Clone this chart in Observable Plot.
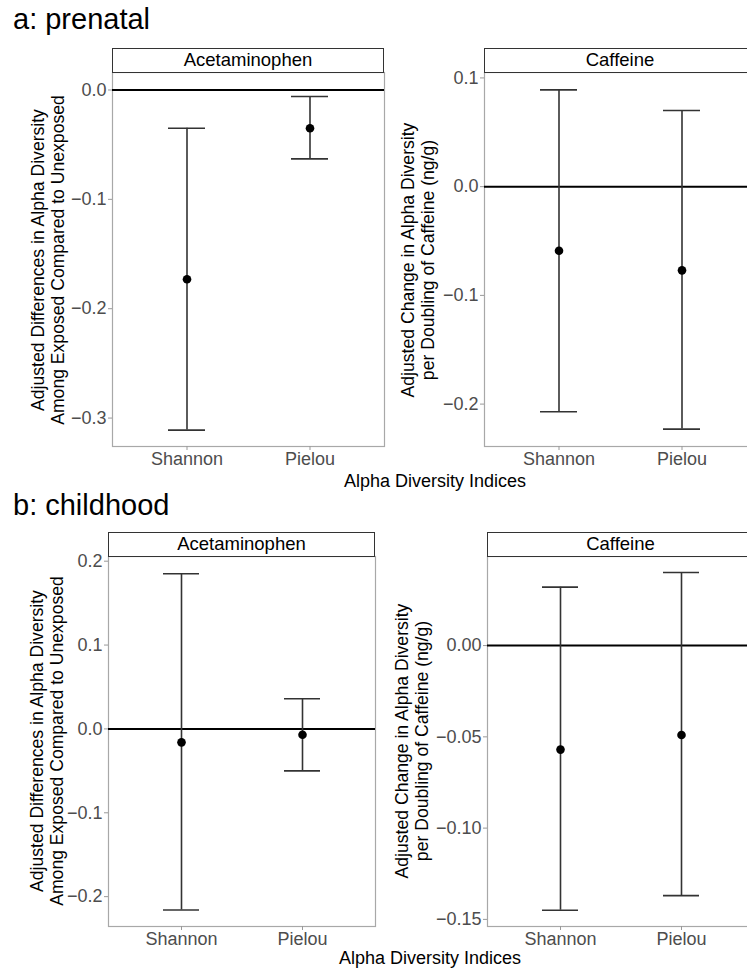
<!DOCTYPE html>
<html>
<head>
<meta charset="utf-8">
<script src="https://cdn.jsdelivr.net/npm/d3@7"></script>
<script src="https://cdn.jsdelivr.net/npm/@observablehq/plot@0.6"></script>
<style>
  body { margin: 0; background: white; }
  #root { position: relative; width: 747px; height: 970px; overflow: hidden; background: white;
          font-family: "Liberation Sans", Arial, sans-serif; color: black; }
  .abs { position: absolute; white-space: nowrap; }
  .title { font-size: 29px; line-height: 29px; }
  .strip { box-sizing: border-box; border: 1.3px solid #333; background: white;
           font-size: 18.5px; text-align: center; }
  .xtitle { font-size: 18px; line-height: 20px; transform: translate(-50%, -50%); }
  .ytitle { font-size: 17.6px; line-height: 20px; text-align: center; width: 460px;
            transform: translate(-50%, -50%) rotate(-90deg); }
</style>
</head>
<body>
<div id="root"></div>
<script>
// ---- data ----
const indices = ["Shannon", "Pielou"];

const prenatalAcetEst = [-0.173, -0.035];
const prenatalAcetLo  = [-0.311, -0.063];
const prenatalAcetHi  = [-0.035, -0.006];
const prenatalAcetTicks = [0, -0.1, -0.2, -0.3];
const prenatalAcetLimits = [-0.326, 0.016];

const prenatalCaffEst = [-0.059, -0.077];
const prenatalCaffLo  = [-0.207, -0.223];
const prenatalCaffHi  = [0.089, 0.070];
const prenatalCaffTicks = [0.1, 0, -0.1, -0.2];
const prenatalCaffLimits = [-0.239, 0.105];

const childAcetEst = [-0.016, -0.007];
const childAcetLo  = [-0.216, -0.050];
const childAcetHi  = [0.185, 0.036];
const childAcetTicks = [0.2, 0.1, 0, -0.1, -0.2];
const childAcetLimits = [-0.2356, 0.2056];

const childCaffEst = [-0.057, -0.049];
const childCaffLo  = [-0.145, -0.137];
const childCaffHi  = [0.032, 0.040];
const childCaffTicks = [0, -0.05, -0.10, -0.15];
const childCaffLimits = [-0.1539, 0.0488];

const panelTitles = ["a: prenatal", "b: childhood"];
const stripLabels = ["Acetaminophen", "Caffeine"];
const xTitle = "Alpha Diversity Indices";
const yTitleAcet = ["Adjusted Differences in Alpha Diversity", "Among Exposed Compared to Unexposed"];
const yTitleCaff = ["Adjusted Change in Alpha Diversity", "per Doubling of Caffeine (ng/g)"];

// ---- helpers ----
const root = document.getElementById("root");
function addDiv(cls, text, css) {
  const d = document.createElement("div");
  d.className = "abs " + cls;
  if (Array.isArray(text)) d.innerHTML = text.map(t => t.replace(/&/g,"&amp;")).join("<br>");
  else d.textContent = text;
  Object.assign(d.style, css);
  root.appendChild(d);
  return d;
}

function panel({est, lo, hi, ticks, limits, fmt, L, R, T, B, strip}) {
  const data = indices.map((k, i) => ({index: k, est: est[i], lo: lo[i], hi: hi[i]}));
  const mL = 70, mR = 2, mT = 2, mB = 40;
  const W = R - L, H = B - T;
  const chart = Plot.plot({
    width: W + mL + mR,
    height: H + mT + mB,
    marginLeft: mL, marginRight: mR, marginTop: mT, marginBottom: mB,
    style: {fontFamily: "Liberation Sans, Arial, sans-serif", fontSize: "18px",
            background: "transparent", maxWidth: "none", overflow: "visible"},
    x: {type: "band", domain: indices, paddingInner: 0.7, paddingOuter: 0.45, label: null},
    y: {domain: limits, label: null},
    marks: [
      Plot.frame({stroke: "#a8a8a8", strokeWidth: 1.2}),
      Plot.axisY({ticks, tickFormat: d3.format(fmt), tickSize: 4, tickPadding: 2,
                  stroke: "#999", fill: "#4d4d4d", fontSize: 18, label: null}),
      Plot.axisX({tickSize: 4, tickPadding: 2, stroke: "#999", fill: "#4d4d4d",
                  fontSize: 18, label: null}),
      Plot.ruleY([0], {stroke: "black", strokeWidth: 2}),
      Plot.ruleX(data, {x: "index", y1: "lo", y2: "hi", stroke: "#333", strokeWidth: 1.6}),
      Plot.tickY(data, {x: "index", y: "lo", stroke: "#333", strokeWidth: 1.6}),
      Plot.tickY(data, {x: "index", y: "hi", stroke: "#333", strokeWidth: 1.6}),
      Plot.dot(data, {x: "index", y: "est", r: 4.3, fill: "black", stroke: "none"})
    ]
  });
  chart.style.position = "absolute";
  chart.style.left = (L - mL) + "px";
  chart.style.top = (T - mT) + "px";
  root.appendChild(chart);
  addDiv("strip", strip, {left: L + "px", top: (T - 24.5) + "px", width: W + "px",
                          height: "25px", lineHeight: "22px"});
}

// ---- row a ----
addDiv("title", panelTitles[0], {left: "13px", top: "4.5px"});
panel({est: prenatalAcetEst, lo: prenatalAcetLo, hi: prenatalAcetHi, ticks: prenatalAcetTicks,
       limits: prenatalAcetLimits, fmt: ".1f", L: 112, R: 384, T: 72, B: 446, strip: stripLabels[0]});
panel({est: prenatalCaffEst, lo: prenatalCaffLo, hi: prenatalCaffHi, ticks: prenatalCaffTicks,
       limits: prenatalCaffLimits, fmt: ".1f", L: 484, R: 756, T: 72, B: 446, strip: stripLabels[1]});
addDiv("ytitle", yTitleAcet, {left: "48px", top: "260px"});
addDiv("ytitle", yTitleCaff, {left: "418px", top: "260px"});
addDiv("xtitle", xTitle, {left: "435px", top: "481px"});

// ---- row b ----
addDiv("title", panelTitles[1], {left: "13px", top: "490.5px"});
panel({est: childAcetEst, lo: childAcetLo, hi: childAcetHi, ticks: childAcetTicks,
       limits: childAcetLimits, fmt: ".1f", L: 108, R: 375, T: 556, B: 926, strip: stripLabels[0]});
panel({est: childCaffEst, lo: childCaffLo, hi: childCaffHi, ticks: childCaffTicks,
       limits: childCaffLimits, fmt: ".2f", L: 487, R: 754, T: 556, B: 926, strip: stripLabels[1]});
addDiv("ytitle", yTitleAcet, {left: "47px", top: "741px"});
addDiv("ytitle", yTitleCaff, {left: "412px", top: "741px"});
addDiv("xtitle", xTitle, {left: "430px", top: "958px"});
</script>
</body>
</html>
